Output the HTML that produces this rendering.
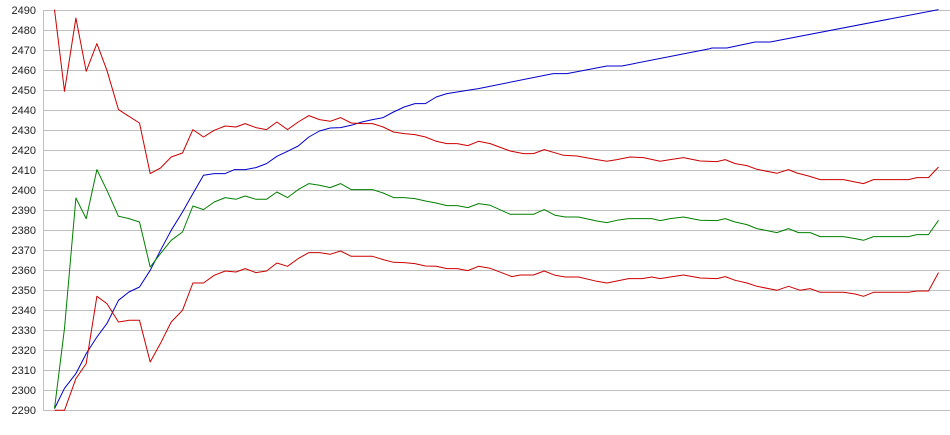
<!DOCTYPE html>
<html><head><meta charset="utf-8"><style>
html,body{margin:0;padding:0;background:#fff;}
svg{display:block;}
text{font-family:"Liberation Sans",Arial,sans-serif;font-size:11px;fill:#222;}
</style></head><body>
<svg width="950" height="435" viewBox="0 0 950 435" xmlns="http://www.w3.org/2000/svg">
<g stroke="#c0c0c0" stroke-width="1" shape-rendering="crispEdges">
<line x1="43" y1="10.5" x2="950" y2="10.5"/>
<line x1="43" y1="30.5" x2="950" y2="30.5"/>
<line x1="43" y1="50.5" x2="950" y2="50.5"/>
<line x1="43" y1="70.5" x2="950" y2="70.5"/>
<line x1="43" y1="90.5" x2="950" y2="90.5"/>
<line x1="43" y1="110.5" x2="950" y2="110.5"/>
<line x1="43" y1="130.5" x2="950" y2="130.5"/>
<line x1="43" y1="150.5" x2="950" y2="150.5"/>
<line x1="43" y1="170.5" x2="950" y2="170.5"/>
<line x1="43" y1="190.5" x2="950" y2="190.5"/>
<line x1="43" y1="210.5" x2="950" y2="210.5"/>
<line x1="43" y1="230.5" x2="950" y2="230.5"/>
<line x1="43" y1="250.5" x2="950" y2="250.5"/>
<line x1="43" y1="270.5" x2="950" y2="270.5"/>
<line x1="43" y1="290.5" x2="950" y2="290.5"/>
<line x1="43" y1="310.5" x2="950" y2="310.5"/>
<line x1="43" y1="330.5" x2="950" y2="330.5"/>
<line x1="43" y1="350.5" x2="950" y2="350.5"/>
<line x1="43" y1="370.5" x2="950" y2="370.5"/>
<line x1="43" y1="390.5" x2="950" y2="390.5"/>
<line x1="43" y1="410.5" x2="950" y2="410.5"/>
<line x1="43.5" y1="10" x2="43.5" y2="411"/>
</g>
<g text-anchor="end">
<text x="36" y="14">2490</text>
<text x="36" y="34">2480</text>
<text x="36" y="54">2470</text>
<text x="36" y="74">2460</text>
<text x="36" y="94">2450</text>
<text x="36" y="114">2440</text>
<text x="36" y="134">2430</text>
<text x="36" y="154">2420</text>
<text x="36" y="174">2410</text>
<text x="36" y="194">2400</text>
<text x="36" y="214">2390</text>
<text x="36" y="234">2380</text>
<text x="36" y="254">2370</text>
<text x="36" y="274">2360</text>
<text x="36" y="294">2350</text>
<text x="36" y="314">2340</text>
<text x="36" y="334">2330</text>
<text x="36" y="354">2320</text>
<text x="36" y="374">2310</text>
<text x="36" y="394">2300</text>
<text x="36" y="414">2290</text>
</g>
<g fill="none" stroke-width="1" stroke-linejoin="round" transform="translate(0.2,0.3)">
<!-- blue -->
<polyline stroke="#0000cc" points="54.3,408.3 64.3,388 75.7,373.3 86,353.3 96.7,336.7 106.7,323.3 118.3,300 128.7,291.7 139.3,286.7 150,270 160.3,250 171,230 182.3,211.7 192.7,193.3 203.3,175 214,173.3 225,173.3 234.3,169.3 245,169.3 255.7,167.3 266.3,163.3 276.7,156 287.3,151 298,145.7 308.7,136.7 319.3,130.7 330,127.7 340.3,127.3 351,125 361.7,121.7 372.3,119.3 383,117.3 393.3,111.7 404,106.7 414.7,103.3 425.3,103.3 436,96.7 446.7,93.3 457,91.7 467.7,90 478.3,88.3 553,73.3 566.7,73.3 606.7,65.7 621.7,65.7 710,48.3 711.7,47.7 726.7,47.7 755,41.7 770,41.7 938.3,9.3"/>
<!-- upper red -->
<polyline stroke="#cc0000" points="54.3,9.3 64.3,91 75.7,17.7 86,71 96.7,43.3 106.7,70 118.3,109.3 128.7,116 139.3,122.7 150,173.3 160.3,167.7 171,156.7 182.3,152.7 192.7,129.3 203.3,136.7 214,130 225,125.7 235.7,126.7 245,123.3 255.7,127.3 266.3,129.3 276.7,121.7 287.3,129.3 298,121.7 308.7,115.3 319.3,119.3 330,121 340.3,117.3 351,122.7 361.7,123.3 372.3,123.3 383,126.7 393.3,131.7 404,133.3 414.7,134.3 425.3,136.7 436,141 446.7,143.3 457,143.3 467.7,145.3 478.3,141 490,143.3 510,150.7 523.3,153.3 533.3,153.3 544,149.3 563.3,155 576.7,155.7 596.7,159.3 606.7,161 616.7,159.3 630,156.7 643.3,157.3 660,161 670,159.3 683.3,157.3 700,160.7 716.7,161.3 725,159.3 735,163.3 746.7,165.3 756.7,169 776.7,173 788.3,169.3 796.7,172.7 808.3,175.7 820,179.3 843.3,179.3 855,181.7 863.3,183.3 873.3,179.3 908.3,179.3 916.7,177.3 928.3,177.3 938.3,166.7"/>
<!-- green -->
<polyline stroke="#008000" points="54.3,408.3 64.3,328 75.7,197.7 86,218.3 96.7,169.3 106.7,190 118.3,216 128.7,218.3 139.3,221.7 150,266.7 160.3,253.3 171,240 182.3,231.7 192.7,205.7 203.3,209.3 214,201.7 225,197.3 235.7,199 245,195.7 255.7,199 266.3,199 276.7,191.7 287.3,197.3 298,189.3 308.7,183.3 319.3,185 330,187.3 340.3,183.3 351,189.3 361.7,189.3 372.3,189.3 383,192.7 393.3,197.3 404,197.3 414.7,198.3 425.3,200.7 436,202.7 446.7,205.3 457,205.3 467.7,207.3 478.3,203.3 490,205 510,214 533.3,214 544,209.3 555,215 565,216.7 578.3,216.7 596.7,220.7 606.7,222.3 616.7,220 628.3,218.3 651.7,218.3 660,220.3 670,218.3 683.3,216.7 700,220 716.7,220.3 725,218.3 735,221.7 746.7,224.3 756.7,228.3 776.7,232.3 788.3,228.3 798.3,232.3 810,232.3 820,236.3 843.3,236.3 855,238.3 863.3,240 873.3,236.3 908.3,236.3 916.7,234.3 928.3,234.3 938.3,220"/>
<!-- lower red -->
<polyline stroke="#cc0000" points="54.3,410 64.3,410 75.7,378.3 86,363.3 96.7,296 106.7,303.3 118.3,321.7 128.7,320 139.3,320 150,361.7 160.3,343 171,321.7 182.3,310 192.7,282.7 203.3,282.7 214,275 225,270.7 235.7,271.7 245,268.3 255.7,272.3 266.3,270.7 276.7,262.7 287.3,266 298,258.3 308.7,252.3 319.3,252.3 330,254 340.3,250.7 351,256 361.7,256 372.3,256 383,259.3 393.3,262 404,262.3 414.7,263.3 425.3,265.7 436,266 446.7,268.3 457,268.3 467.7,270.3 478.3,266 490,268 511.7,276.3 520,274.7 533.3,274.7 544,270.7 555,275 565,276.7 578.3,276.7 596.7,281 606.7,282.7 616.7,280.7 628.3,278.3 641.7,278.3 651.7,276.7 660,278.3 670,276.7 683.3,274.7 700,277.7 716.7,278.3 725,276.3 735,280 746.7,282.7 756.7,286 776.7,290 788.3,286 800,290 810,288.3 820,292 843.3,292 855,293.7 863.3,296 873.3,292 908.3,292 916.7,290.7 928.3,290.7 938.3,272.3"/>
</g>
</svg>
</body></html>
